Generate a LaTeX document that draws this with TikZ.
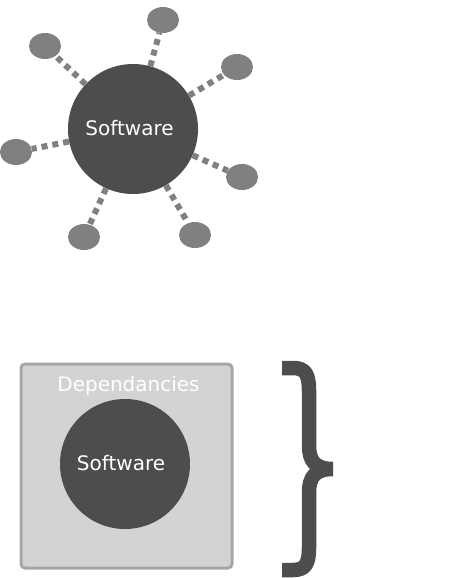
\documentclass[tikz,border=0pt]{standalone}
\usepackage{fontspec}
\setmainfont{DejaVu Sans}
\usetikzlibrary{shapes.geometric}
\definecolor{softgray}{HTML}{4D4D4D}
\definecolor{satgray}{HTML}{808080}
\definecolor{boxgray}{HTML}{D3D3D3}
\definecolor{edgegray}{HTML}{A6A6A6}
\tikzset{
	soft/.style={circle, fill=softgray, minimum size=130pt, inner sep=0pt},
	softlabel/.style={text=white, anchor=base, inner sep=0pt, font=\fontsize{20}{24}\selectfont},
	sat/.style={ellipse, fill=satgray, minimum width=32pt, minimum height=26pt, inner sep=0pt},
	link/.style={draw=satgray, line width=6pt, dash pattern=on 6pt off 5pt},
	depbox/.style={rectangle, rounded corners=4pt, draw=edgegray, line width=3pt, fill=boxgray, minimum width=211pt, minimum height=204pt},
}

\begin{document}
\begin{tikzpicture}[x=1pt, y=-1pt]
				\useasboundingbox (0,0) rectangle (471,578);
				
				\node[soft] (core) at (133,129) {};
				\node[softlabel] (corelabel) at (129.5,135) {Software};
				\node[sat] (s1) at (163,20) {};
				\node[sat] (s2) at (45,46) {};
				\node[sat] (s3) at (237,67) {};
				\node[sat] (s4) at (16,152) {};
				\node[sat] (s5) at (242,177) {};
				\node[sat] (s6) at (84,237) {};
				\node[sat] (s7) at (195,235) {};
				
				\draw[link] (core) -- (s1);
				\draw[link] (core) -- (s2);
				\draw[link] (core) -- (s3);
				\draw[link] (core) -- (s4);
				\draw[link] (core) -- (s5);
				\draw[link] (core) -- (s6);
				\draw[link] (core) -- (s7);
				
				\node[depbox] (deps) at (126.5,466) {};
				\node[softlabel] (depslabel) at (128.5,391) {Dependancies};
				\node[soft] (inner) at (125,464) {};
				\node[softlabel] (innerlabel) at (121,470.5) {Software};
				
				\draw[softgray, line width=14.5pt] (282,368) -- (293,368) .. controls (305,368) and (309,374) .. (309,390) -- (309,445) .. controls (309,461) and (315,469) .. (333,469)
					.. controls (315,469) and (309,477) .. (309,493) -- (309,548) .. controls (309,564) and (305,570) .. (293,570) -- (282,570);
			\end{tikzpicture}
\end{document}
